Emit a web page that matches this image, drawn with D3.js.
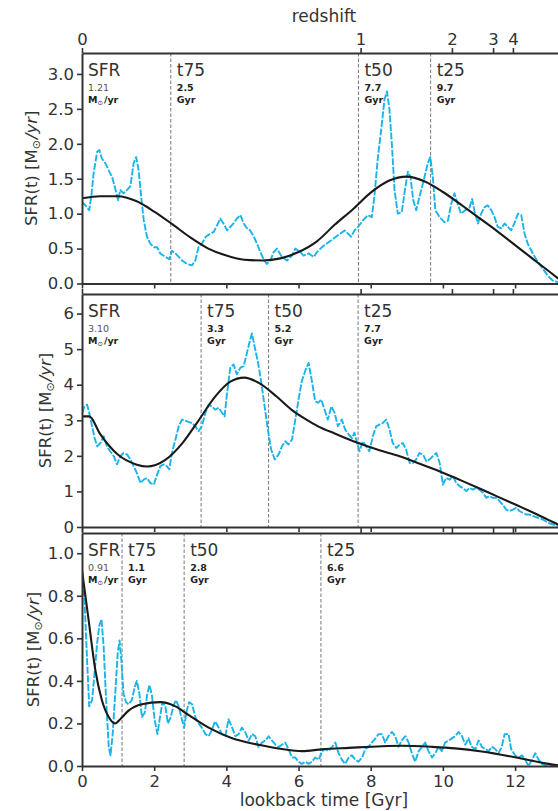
<!DOCTYPE html>
<html><head><meta charset="utf-8">
<script src="https://cdn.jsdelivr.net/npm/d3@7"></script>
<style>body{margin:0;background:#fff}svg{display:block;font-family:"DejaVu Sans",sans-serif}</style>
</head><body><svg id="c" width="558" height="811"></svg>
<script>
// ---------- DATA ----------
const redshiftTickTimes = [0, 7.72, 10.25, 11.39, 11.94];
const redshiftTickLabels = ["0", "1", "2", "3", "4"];

// panel 1
const sfr1Blue = [[0,1.17],[0.09,1.12],[0.2,1.05],[0.26,1.26],[0.32,1.57],[0.42,1.89],[0.48,1.91],[0.55,1.79],[0.65,1.72],[0.74,1.62],[0.83,1.53],[0.92,1.36],[1.0,1.19],[1.06,1.34],[1.15,1.29],[1.25,1.34],[1.34,1.39],[1.43,1.72],[1.5,1.81],[1.57,1.62],[1.64,1.24],[1.71,0.91],[1.8,0.67],[1.89,0.57],[1.99,0.52],[2.08,0.52],[2.17,0.43],[2.31,0.38],[2.42,0.35],[2.49,0.47],[2.59,0.43],[2.68,0.38],[2.77,0.33],[2.91,0.28],[3.05,0.26],[3.14,0.33],[3.23,0.52],[3.32,0.57],[3.43,0.67],[3.55,0.71],[3.65,0.74],[3.74,0.83],[3.83,0.93],[3.92,0.86],[4.02,0.76],[4.11,0.81],[4.2,0.86],[4.29,0.93],[4.39,0.98],[4.48,0.86],[4.57,0.79],[4.66,0.76],[4.76,0.67],[4.85,0.57],[4.94,0.45],[5.03,0.35],[5.12,0.28],[5.22,0.33],[5.31,0.45],[5.4,0.50],[5.54,0.38],[5.68,0.33],[5.82,0.40],[5.91,0.50],[6.05,0.45],[6.14,0.40],[6.28,0.43],[6.42,0.38],[6.51,0.45],[6.65,0.52],[6.72,0.55],[6.91,0.62],[7.09,0.69],[7.28,0.76],[7.46,0.67],[7.55,0.76],[7.65,0.81],[7.78,0.90],[7.92,0.98],[8.03,0.95],[8.1,1.24],[8.2,1.81],[8.29,2.20],[8.38,2.63],[8.45,2.75],[8.52,2.49],[8.59,1.96],[8.66,1.34],[8.75,1.00],[8.86,1.02],[8.96,1.38],[9.03,1.60],[9.1,1.53],[9.18,1.19],[9.26,1.05],[9.35,1.24],[9.47,1.48],[9.58,1.72],[9.65,1.81],[9.72,1.53],[9.79,1.05],[9.91,0.95],[10.04,0.88],[10.14,0.90],[10.23,1.14],[10.32,1.29],[10.41,1.14],[10.5,1.00],[10.62,1.05],[10.74,1.09],[10.81,1.21],[10.87,1.05],[10.97,0.86],[11.06,1.00],[11.15,1.09],[11.24,1.12],[11.34,1.05],[11.43,0.95],[11.52,0.81],[11.62,0.79],[11.71,0.86],[11.8,0.81],[11.89,0.76],[11.98,0.86],[12.08,1.00],[12.17,0.98],[12.26,0.72],[12.35,0.57],[12.49,0.43],[12.63,0.31],[12.77,0.21],[12.91,0.11],[13.05,0.04],[13.19,0.02]];
const sfr1Fit = [[0,1.22],[0.5,1.25],[1.0,1.25],[1.5,1.18],[2.0,1.03],[2.5,0.85],[3.0,0.66],[3.5,0.50],[4.0,0.40],[4.5,0.34],[5.0,0.33],[5.5,0.36],[6.0,0.45],[6.5,0.60],[7.0,0.84],[7.5,1.06],[8.0,1.30],[8.5,1.47],[9.0,1.53],[9.5,1.46],[10.0,1.31],[10.5,1.13],[11.0,0.94],[11.5,0.75],[12.0,0.55],[12.5,0.35],[13.0,0.15],[13.3,0.03]];
const marks1 = [2.46, 7.66, 9.66];
const marks1Labels = ["2.5", "7.7", "9.7"];
const sfr1Now = "1.21";

// panel 2
const sfr2Blue = [[0,3.21],[0.07,3.39],[0.14,3.44],[0.2,3.21],[0.28,2.83],[0.35,2.50],[0.42,2.27],[0.51,2.36],[0.6,2.55],[0.69,2.27],[0.78,2.13],[0.88,1.99],[0.97,1.76],[1.06,1.99],[1.15,2.08],[1.25,2.04],[1.34,1.90],[1.43,1.71],[1.52,1.52],[1.62,1.24],[1.71,1.33],[1.8,1.38],[1.89,1.24],[1.99,1.19],[2.08,1.47],[2.17,1.71],[2.26,1.76],[2.35,1.71],[2.42,1.62],[2.49,2.08],[2.59,2.46],[2.68,2.83],[2.77,3.02],[2.91,2.97],[3.05,2.92],[3.14,2.83],[3.23,2.69],[3.32,2.83],[3.42,3.21],[3.51,3.44],[3.6,3.39],[3.69,3.30],[3.79,3.35],[3.88,3.21],[3.95,3.11],[4.02,3.77],[4.11,4.48],[4.2,4.57],[4.29,4.29],[4.39,4.48],[4.48,4.52],[4.57,4.89],[4.66,5.27],[4.71,5.44],[4.78,5.08],[4.88,4.61],[4.97,4.05],[5.06,3.39],[5.15,2.74],[5.24,2.18],[5.34,1.90],[5.45,2.04],[5.54,2.27],[5.63,2.41],[5.72,2.32],[5.82,2.46],[5.91,3.02],[6.0,3.58],[6.09,4.10],[6.2,4.43],[6.28,4.61],[6.37,4.10],[6.46,3.54],[6.54,3.49],[6.63,3.58],[6.72,3.30],[6.81,3.02],[6.91,3.39],[7.0,3.21],[7.09,2.83],[7.2,3.02],[7.29,2.74],[7.39,2.60],[7.48,2.50],[7.55,2.65],[7.63,2.32],[7.69,2.13],[7.78,2.41],[7.87,2.27],[7.96,2.13],[8.06,2.55],[8.15,2.83],[8.24,2.88],[8.33,2.92],[8.43,3.02],[8.52,2.74],[8.61,2.36],[8.71,2.22],[8.8,2.32],[8.89,2.36],[8.98,2.18],[9.08,1.80],[9.17,1.80],[9.26,1.90],[9.35,2.08],[9.45,2.04],[9.54,1.85],[9.63,1.90],[9.72,1.99],[9.82,2.08],[9.91,1.80],[10.0,1.19],[10.09,1.38],[10.19,1.33],[10.28,1.43],[10.37,1.24],[10.46,1.15],[10.55,1.10],[10.65,1.01],[10.74,1.10],[10.83,1.05],[10.92,1.10],[11.01,1.05],[11.11,0.96],[11.2,0.82],[11.29,0.87],[11.38,0.82],[11.48,0.82],[11.57,0.73],[11.66,0.63],[11.75,0.49],[11.84,0.45],[11.94,0.49],[12.03,0.54],[12.12,0.45],[12.21,0.40],[12.31,0.35],[12.4,0.35],[12.49,0.31],[12.63,0.26],[12.77,0.21],[12.91,0.12],[13.05,0.07],[13.19,0.03]];
const sfr2Fit = [[0,3.11],[0.2,3.11],[0.5,2.62],[1.0,2.03],[1.5,1.76],[1.8,1.70],[2.3,1.88],[2.8,2.38],[3.2,2.95],[3.7,3.68],[4.1,4.08],[4.5,4.20],[4.9,4.05],[5.4,3.66],[5.8,3.30],[6.3,2.97],[6.6,2.80],[7.0,2.63],[7.6,2.38],[8.2,2.17],[8.8,1.99],[9.3,1.80],[9.9,1.57],[10.5,1.31],[11.0,1.09],[11.5,0.86],[12.1,0.59],[12.6,0.36],[13.2,0.07],[13.3,0.03]];
const marks2 = [3.30, 5.17, 7.65];
const marks2Labels = ["3.3", "5.2", "7.7"];
const sfr2Now = "3.10";

// panel 3
const sfr3Blue = [[0,0.91],[0.07,0.78],[0.14,0.50],[0.2,0.28],[0.28,0.31],[0.35,0.44],[0.42,0.58],[0.48,0.66],[0.54,0.69],[0.6,0.56],[0.66,0.34],[0.74,0.09],[0.79,0.05],[0.85,0.15],[0.92,0.34],[0.99,0.53],[1.04,0.59],[1.09,0.50],[1.15,0.34],[1.22,0.30],[1.29,0.29],[1.38,0.31],[1.46,0.37],[1.52,0.40],[1.59,0.34],[1.66,0.23],[1.74,0.25],[1.81,0.34],[1.87,0.38],[1.94,0.33],[2.01,0.22],[2.09,0.15],[2.16,0.23],[2.23,0.30],[2.31,0.28],[2.38,0.20],[2.46,0.23],[2.53,0.28],[2.6,0.31],[2.68,0.28],[2.75,0.23],[2.83,0.18],[2.9,0.26],[2.97,0.30],[3.05,0.29],[3.14,0.23],[3.23,0.20],[3.32,0.18],[3.42,0.15],[3.51,0.14],[3.6,0.17],[3.69,0.21],[3.79,0.18],[3.88,0.15],[3.97,0.14],[4.06,0.22],[4.16,0.18],[4.25,0.14],[4.34,0.15],[4.43,0.18],[4.52,0.16],[4.62,0.12],[4.71,0.15],[4.8,0.14],[4.89,0.09],[4.99,0.11],[5.08,0.12],[5.17,0.14],[5.26,0.12],[5.36,0.10],[5.45,0.09],[5.54,0.10],[5.63,0.11],[5.72,0.08],[5.82,0.04],[5.91,0.04],[6.0,0.02],[6.09,0.01],[6.19,0.02],[6.28,0.01],[6.37,0.02],[6.46,0.04],[6.56,0.03],[6.65,0.07],[6.74,0.08],[6.83,0.07],[6.93,0.09],[7.02,0.11],[7.11,0.06],[7.2,0.03],[7.29,0.01],[7.39,0.04],[7.48,0.05],[7.57,0.03],[7.66,0.02],[7.76,0.04],[7.85,0.08],[7.94,0.09],[8.03,0.11],[8.13,0.13],[8.22,0.15],[8.31,0.15],[8.4,0.11],[8.49,0.14],[8.59,0.16],[8.68,0.14],[8.77,0.09],[8.86,0.12],[8.96,0.14],[9.05,0.11],[9.14,0.06],[9.23,0.02],[9.33,0.07],[9.42,0.09],[9.51,0.11],[9.6,0.07],[9.7,0.04],[9.79,0.06],[9.88,0.09],[9.97,0.07],[10.06,0.11],[10.16,0.12],[10.25,0.13],[10.34,0.14],[10.43,0.16],[10.53,0.14],[10.62,0.10],[10.71,0.13],[10.8,0.09],[10.9,0.08],[10.99,0.12],[11.08,0.09],[11.17,0.08],[11.27,0.07],[11.36,0.09],[11.45,0.08],[11.54,0.06],[11.63,0.09],[11.71,0.15],[11.82,0.15],[11.89,0.08],[12.0,0.05],[12.1,0.04],[12.19,0.05],[12.28,0.03],[12.37,0.00],[12.47,0.03],[12.56,0.06],[12.65,0.03],[12.74,0.01],[12.88,0.00],[13.02,0.00],[13.16,0.00]];
const sfr3Fit = [[0,0.92],[0.18,0.69],[0.37,0.45],[0.55,0.31],[0.74,0.23],[0.92,0.20],[1.06,0.22],[1.29,0.26],[1.66,0.29],[2.17,0.30],[2.59,0.28],[2.95,0.24],[3.51,0.18],[4.16,0.13],[4.89,0.10],[5.54,0.08],[6.09,0.07],[6.65,0.078],[7.39,0.085],[8.31,0.093],[8.86,0.095],[9.7,0.090],[10.34,0.083],[11.08,0.068],[12.0,0.041],[12.93,0.01],[13.3,0.0]];
const marks3 = [1.11, 2.83, 6.62];
const marks3Labels = ["1.1", "2.8", "6.6"];
const sfr3Now = "0.91";

const markNames = ["t75", "t50", "t25"];
const yTicks1 = [0, 0.5, 1.0, 1.5, 2.0, 2.5, 3.0];
const yTicks2 = [0, 1, 2, 3, 4, 5, 6];
const yTicks3 = [0, 0.2, 0.4, 0.6, 0.8, 1.0];
const xTicks = [0, 2, 4, 6, 8, 10, 12];

// ---------- DRAW ----------
const svg = d3.select("#c");
const x = d3.scaleLinear().domain([0, 13.3]).range([82, 562]);
const BLUE = "#19b4ea", INK = "#333";

const panels = [
  {top: 53, bottom: 283.5, ymax: 3.3, ticks: yTicks1, fmt: d3.format(".1f"), blue: sfr1Blue, fit: sfr1Fit, marks: marks1, mlab: marks1Labels, now: sfr1Now, labX: 31},
  {top: 294, bottom: 527, ymax: 6.55, ticks: yTicks2, fmt: d3.format("d"), blue: sfr2Blue, fit: sfr2Fit, marks: marks2, mlab: marks2Labels, now: sfr2Now, labX: 45},
  {top: 533, bottom: 766, ymax: 1.095, ticks: yTicks3, fmt: d3.format(".1f"), blue: sfr3Blue, fit: sfr3Fit, marks: marks3, mlab: marks3Labels, now: sfr3Now, labX: 33}
];

function styleAxis(g) {
  g.selectAll(".domain").attr("stroke", INK).attr("stroke-width", 2);
  g.selectAll(".tick line").attr("stroke", INK).attr("stroke-width", 1.6);
  g.selectAll(".tick text").attr("fill", INK).style("font-size", "16.5px").style("font-family", "DejaVu Sans");
}

panels.forEach((p, i) => {
  const y = d3.scaleLinear().domain([0, p.ymax]).range([p.bottom, p.top]);
  const g = svg.append("g");
  const cid = "clip" + i;
  svg.append("clipPath").attr("id", cid).append("rect")
    .attr("x", x(0)).attr("y", p.top).attr("width", x(13.3) - x(0)).attr("height", p.bottom - p.top);

  // vertical marker lines
  p.marks.forEach(m => {
    g.append("line").attr("x1", x(m)).attr("x2", x(m)).attr("y1", p.top).attr("y2", p.bottom)
      .attr("stroke", "#777").attr("stroke-width", 1).attr("stroke-dasharray", "3.5,2");
  });

  // curves
  const line = d3.line().x(d => x(d[0])).y(d => y(d[1]));
  g.append("path").datum(p.blue).attr("clip-path", `url(#${cid})`)
    .attr("d", line.curve(d3.curveLinear)).attr("fill", "none").attr("stroke", BLUE)
    .attr("stroke-width", 1.9).attr("stroke-dasharray", "7,1.6").attr("stroke-linejoin", "round");
  g.append("path").datum(p.fit).attr("clip-path", `url(#${cid})`)
    .attr("d", d3.line().x(d => x(d[0])).y(d => y(d[1])).curve(d3.curveMonotoneX))
    .attr("fill", "none").attr("stroke", "#1a1a1a").attr("stroke-width", 2.1);

  // axes
  const ax = g.append("g").attr("transform", `translate(${x(0)},0)`)
    .call(d3.axisLeft(y).tickValues(p.ticks).tickFormat(p.fmt).tickSize(5).tickSizeOuter(0).tickPadding(3));
  styleAxis(ax);
  const bx = g.append("g").attr("transform", `translate(0,${p.bottom})`)
    .call(d3.axisBottom(x).tickValues(xTicks).tickSize(5).tickSizeOuter(0).tickPadding(4)
      .tickFormat(i === 2 ? d3.format("d") : () => ""));
  styleAxis(bx);
  const tx = g.append("g").attr("transform", `translate(0,${p.top})`)
    .call(d3.axisTop(x).tickValues(redshiftTickTimes).tickSize(5).tickSizeOuter(0).tickPadding(3)
      .tickFormat((d, k) => i === 0 ? redshiftTickLabels[k] : ""));
  styleAxis(tx);

  // SFR label block
  const lx = 88;
  g.append("text").attr("x", lx).attr("y", p.top + 23).text("SFR")
    .attr("fill", INK).style("font-size", "17px");
  g.append("text").attr("x", lx).attr("y", p.top + 38).text(p.now)
    .attr("fill", "#555").style("font-size", "9.5px");
  const u = g.append("text").attr("x", lx).attr("y", p.top + 50).attr("fill", "#222")
    .style("font-size", "9.5px").style("font-weight", "bold");
  u.append("tspan").text("M");
  u.append("tspan").text("\u2299").style("font-size", "6.5px").style("font-weight", "normal").attr("dy", 2);
  u.append("tspan").text("/yr").attr("dy", -2).attr("dx", 1);

  // marker labels
  p.marks.forEach((m, k) => {
    const mx = x(m) + 6;
    g.append("text").attr("x", mx).attr("y", p.top + 23).text(markNames[k])
      .attr("fill", INK).style("font-size", "17px");
    g.append("text").attr("x", mx).attr("y", p.top + 38).text(p.mlab[k])
      .attr("fill", "#222").style("font-size", "9.5px").style("font-weight", "bold");
    g.append("text").attr("x", mx).attr("y", p.top + 50).text("Gyr")
      .attr("fill", "#222").style("font-size", "9.5px").style("font-weight", "bold");
  });

  // y label
  const cy = (p.top + p.bottom) / 2;
  const yl = svg.append("text").attr("transform", `translate(${p.labX + 6},${cy}) rotate(-90)`)
    .attr("text-anchor", "middle").attr("fill", INK).style("font-size", "16.5px");
  yl.append("tspan").text("SFR(t) [M");
  yl.append("tspan").text("\u2299").style("font-size", "11px").attr("dy", 3);
  yl.append("tspan").text("/yr").style("font-style", "italic").attr("dy", -3).attr("dx", 1);
  yl.append("tspan").text("]");
});

// axis titles
svg.append("text").attr("x", 324).attr("y", 22).attr("text-anchor", "middle")
  .attr("fill", INK).style("font-size", "17px").text("redshift");
svg.append("text").attr("x", 324).attr("y", 806).attr("text-anchor", "middle")
  .attr("fill", INK).style("font-size", "17px").text("lookback time [Gyr]");
</script>
</body></html>
